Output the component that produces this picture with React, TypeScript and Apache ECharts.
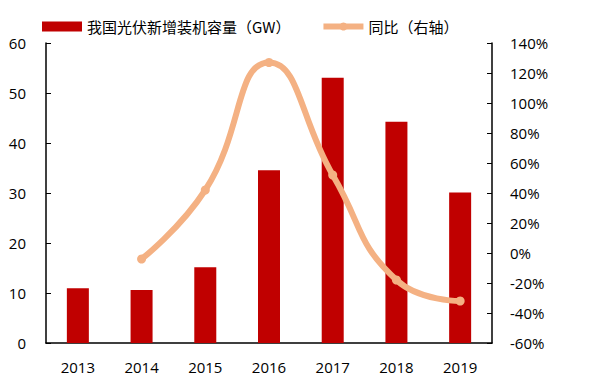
import React, { useEffect, useRef } from "react";
import * as echarts from "echarts";

const years = ["2013", "2014", "2015", "2016", "2017", "2018", "2019"];
const capacity = [10.95, 10.6, 15.13, 34.54, 53.06, 44.26, 30.11];
const yoy = [null, -4, 42, 127, 52, -18, -32];

const barName = "我国光伏新增装机容量（GW）";
const lineName = "同比（右轴）";

export default function App() {
  const ref = useRef<HTMLDivElement>(null);
  useEffect(() => {
    const chart = echarts.init(ref.current!, null, { renderer: "svg" });
    const axisFont = { fontFamily: "Open Sans, Liberation Sans, sans-serif", fontSize: 15, color: "#000" };
    chart.setOption({
      animation: false,
      backgroundColor: "#fff",
      legend: {
        top: 14,
        left: 37,
        itemGap: 30,
        itemWidth: 40,
        itemHeight: 10,
        textStyle: { fontFamily: "Noto Sans CJK SC, sans-serif", fontSize: 15, color: "#000" },
        data: [
          { name: barName, icon: "rect" },
          { name: lineName, lineStyle: { width: 6, color: "#F4B183" } },
        ],
      },
      grid: { left: 46, right: 108, top: 43, bottom: 45 },
      xAxis: {
        type: "category",
        data: years,
        axisLine: { lineStyle: { color: "#000", width: 1.5 } },
        axisTick: { inside: true, length: 5, lineStyle: { color: "#000" } },
        axisLabel: { ...axisFont, margin: 16 },
      },
      yAxis: [
        {
          type: "value",
          min: 0,
          max: 60,
          interval: 10,
          splitLine: { show: false },
          axisLine: { show: true, lineStyle: { color: "#000", width: 1.5 } },
          axisTick: { show: true, inside: true, length: 5, lineStyle: { color: "#000" } },
          axisLabel: { ...axisFont, margin: 20 },
        },
        {
          type: "value",
          min: -60,
          max: 140,
          interval: 20,
          splitLine: { show: false },
          axisLine: { show: true, lineStyle: { color: "#000", width: 1.5 } },
          axisTick: { show: true, inside: true, length: 5, lineStyle: { color: "#000" } },
          axisLabel: { ...axisFont, margin: 18, formatter: "{value}%" },
        },
      ],
      series: [
        {
          name: barName,
          type: "bar",
          data: capacity,
          barWidth: 22,
          itemStyle: { color: "#C00000" },
        },
        {
          name: lineName,
          type: "line",
          yAxisIndex: 1,
          data: yoy,
          smooth: 0.5,
          symbol: "circle",
          symbolSize: 9,
          lineStyle: { color: "#F4B183", width: 6 },
          itemStyle: { color: "#F4B183" },
        },
      ],
    });
    return () => chart.dispose();
  }, []);
  return <div ref={ref} style={{ position: "fixed", left: 0, top: 0, width: 600, height: 388 }} />;
}
